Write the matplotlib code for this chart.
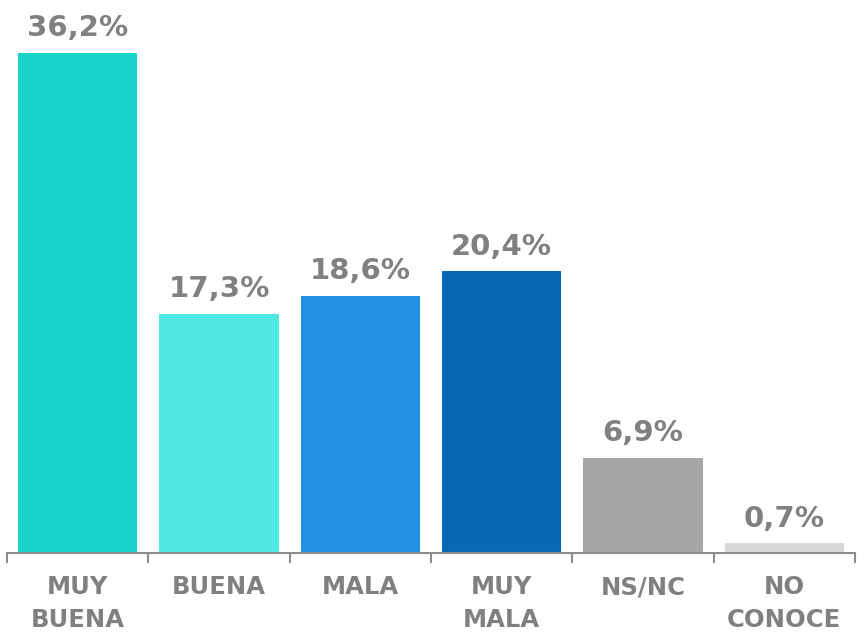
import matplotlib
matplotlib.use("Agg")
import matplotlib.pyplot as plt

categories = ["MUY\nBUENA", "BUENA", "MALA", "MUY\nMALA", "NS/NC", "NO\nCONOCE"]
values = [36.2, 17.3, 18.6, 20.4, 6.9, 0.7]
labels = ["36,2%", "17,3%", "18,6%", "20,4%", "6,9%", "0,7%"]
colors = ["#1ad3cd", "#4fe8e3", "#2191e6", "#0569b5", "#a6a6a6", "#d9d9d9"]

gray = "#808080"
plt.rcParams['font.family'] = ['DejaVu Sans']

fig = plt.figure(figsize=(8.64, 6.39), dpi=100)
ax = fig.add_axes([7/864, 86/639, 848/864, 553/639])
x = list(range(len(categories)))
ax.bar(x, values, width=0.845, color=colors)
for xi, v, lab in zip(x, values, labels):
    ax.annotate(lab, (xi, v), xytext=(0, 7.5), textcoords="offset points",
                ha="center", va="bottom", fontsize=21, fontweight="bold", color=gray)
ax.set_xlim(-0.5, 5.5)
ax.set_ylim(0, 40)
ax.set_yticks([])
for s in ["top", "right", "left"]:
    ax.spines[s].set_visible(False)
ax.spines["bottom"].set_color("#8c8c8c")
ax.spines["bottom"].set_linewidth(1.5)
ax.set_xticks([i - 0.5 for i in range(len(categories) + 1)])
ax.set_xticklabels([])
ax.tick_params(axis="x", length=7, width=1.5, color="#8c8c8c")
ax.set_xticks(x, minor=True)
ax.set_xticklabels(categories, minor=True, fontsize=17.5, fontweight="bold", color=gray, linespacing=1.45)
ax.tick_params(axis="x", which="minor", length=0, pad=16)
fig.savefig("out.png", dpi=100)
